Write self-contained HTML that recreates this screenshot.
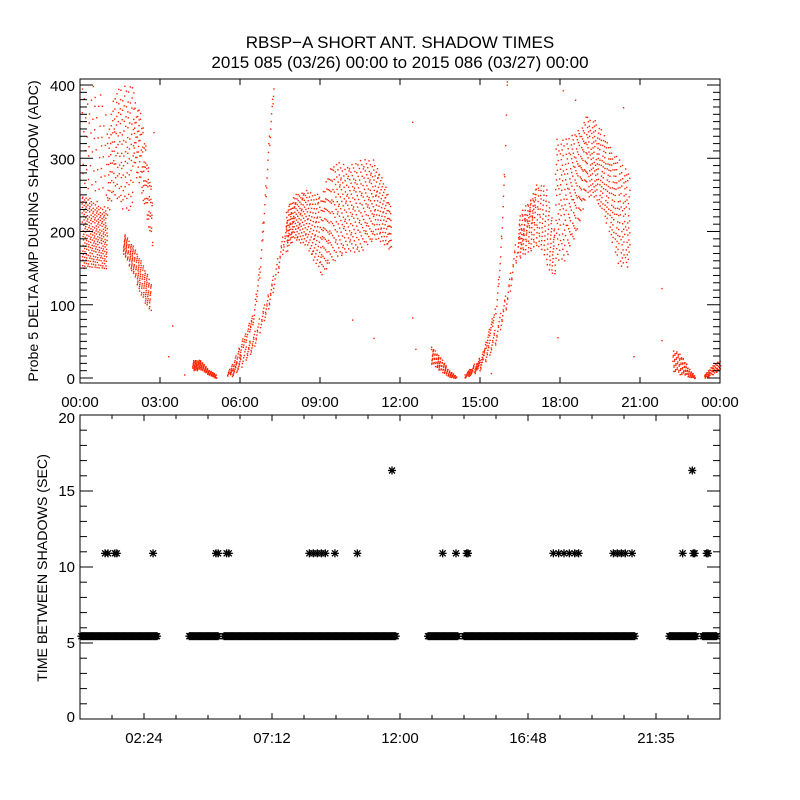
<!DOCTYPE html>
<html><head><meta charset="utf-8"><style>
html,body{margin:0;padding:0;background:#fff;}
svg{display:block;font-family:"Liberation Sans",sans-serif;}
</style></head><body>
<svg id="chart" width="800" height="800" viewBox="0 0 800 800" xmlns="http://www.w3.org/2000/svg">
<rect x="0" y="0" width="800" height="800" fill="#fff"/>
<text x="400" y="48" font-size="17" text-anchor="middle">RBSP−A SHORT ANT. SHADOW TIMES</text>
<text x="400" y="68" font-size="17" text-anchor="middle">2015 085 (03/26) 00:00 to 2015 086 (03/27) 00:00</text>
<g id="topPanel"></g>
<g id="botPanel"></g>
</svg>
<script>
// ---- top panel data: bands of scattered points ----
const bandTimes = [
 [0.05,0.5,1.0],[0.05,0.5,1.0],[1.0,1.3,1.6,2.0],[1.6,2.0,2.3,2.65],[2.0,2.3,2.7],
 [4.2,4.5,4.8,5.1],[5.5,5.9,6.5,6.75,7.0,7.25],[5.6,6.0,6.5,7.0,7.3,7.6,8.0],
 [7.7,8.0,8.5,9.0,9.5,10.0,10.5,11.0,11.5,11.65],
 [13.15,13.5,13.8,14.1],[14.4,15.0,15.6,15.75,15.9,16.0],[14.4,15.0,15.6,16.0,16.3,16.75,17.1],
 [16.4,16.75,17.25,17.5,17.8],[17.8,18.2,18.6,19.0,19.4,19.8,20.2,20.6],
 [22.2,22.5,22.8,23.05],[23.4,23.7,24.0]];
const bandLow = [
 [150,150,150],[240,240,230],[220,250,230,220],[170,140,110,90],[280,250,180],
 [10,12,5,0],[0,22,77,145,270,392],[0,12,40,88,128,172,200],
 [170,190,180,140,160,170,170,190,180,170],
 [20,10,2,0],[0,15,90,157,270,390],[0,10,48,98,155,200,220],
 [160,170,180,150,140],[160,160,200,250,240,200,150,150],
 [10,5,2,0],[0,5,10]];
const bandHigh = [
 [250,240,230],[400,400,380],[330,400,400,400],[200,180,160,130],[380,360,250],
 [25,25,12,5],[6,38,93,165,300,405],[8,30,62,112,152,198,240],
 [230,250,260,250,300,290,300,300,260,230],
 [45,30,12,3],[5,26,104,173,290,405],[6,30,72,122,185,230,265],
 [220,240,270,260,200],[330,330,340,360,350,320,300,280],
 [40,35,15,3],[5,18,25]];
const bandCounts = [250,60,160,180,110,150,110,140,700,120,90,150,200,520,100,60];
const outlierTimes  = [2.75,3.45,3.3,3.9,12.45,12.45,12.57,16.0,18.1,18.56,20.36,21.8,21.8,20.75,17.9,15.4,11.0,10.2];
const outlierValues = [336,72,30,5,350,83,40,405,393,380,370,123,52,30,56,7,55,80];
const topYTicks = [0,100,200,300,400];
const topXTicks = [0,3,6,9,12,15,18,21,24];
const topXLabels = ["00:00","03:00","06:00","09:00","12:00","15:00","18:00","21:00","00:00"];

// ---- bottom panel data ----
const baseSegStart = [0.05,4.1,5.4,13.05,14.4,22.1,23.35];
const baseSegEnd   = [2.9,5.2,11.85,14.2,20.8,23.1,23.9];
const baseValue = 5.45;
const starTimes  = [0.94,1.05,1.31,1.38,2.74,5.1,5.18,5.5,5.58,8.6,8.75,8.9,9.05,9.2,9.56,10.4,11.7,13.6,14.1,14.5,14.55,17.75,17.95,18.15,18.35,18.55,18.7,20.0,20.15,20.3,20.45,20.7,22.6,23.0,23.05,23.5,23.55,22.96];
const starValues = [10.9,10.9,10.9,10.9,10.9,10.9,10.9,10.9,10.9,10.9,10.9,10.9,10.9,10.9,10.9,10.9,16.35,10.9,10.9,10.9,10.9,10.9,10.9,10.9,10.9,10.9,10.9,10.9,10.9,10.9,10.9,10.9,10.9,10.9,10.9,10.9,10.9,16.35];
const botYTicks = [0,5,10,15,20];
const botXTicks = [2.4,7.2,12.0,16.8,21.6];
const botXLabels = ["02:24","07:12","12:00","16:48","21:35"];

const NS="http://www.w3.org/2000/svg";
function mk(tag,attrs,parent){const e=document.createElementNS(NS,tag);for(const k in attrs)e.setAttribute(k,attrs[k]);parent.appendChild(e);return e;}
const PL=80,PR=720;
const xs=h=>PL+h/24*(PR-PL);
const yTop=v=>378-v*0.7325;
const yBot=v=>719-v*(719-415)/20;
const topG=document.getElementById('topPanel'), botG=document.getElementById('botPanel');

function interp(ts,vs,t){if(t<=ts[0])return vs[0];for(let i=1;i<ts.length;i++){if(t<=ts[i]){const f=(t-ts[i-1])/(ts[i]-ts[i-1]);return vs[i-1]+f*(vs[i]-vs[i-1]);}}return vs[vs.length-1];}

// scatter points (uniform 2D low-discrepancy fill within each band)
const pts=mk('g',{fill:'#ff2200'},topG);


const a1=0.7548776662,a2=0.5698402910;
bandTimes.forEach((ts,b)=>{
  const n=bandCounts[b],t0=ts[0],t1=ts[ts.length-1];
  for(let i=0;i<n;i++){
    const ft=(0.5+i*a1)%1, fv=(0.5+b*0.13+i*a2)%1;
    const t=t0+ft*(t1-t0);
    const lo=interp(ts,bandLow[b],t),hi=interp(ts,bandHigh[b],t);
    const v=lo+fv*(hi-lo);
    if(v>408)continue;
    const r=mk('rect',{x:xs(t).toFixed(1),y:yTop(v).toFixed(1),width:1.4,height:1.4},pts);
    
    
  }
});
outlierTimes.forEach((t,i)=>{
  const r=mk('rect',{x:xs(t).toFixed(1),y:yTop(outlierValues[i]).toFixed(1),width:1.4,height:1.4},pts);
  
  
});

function frame(parent,y0,y1){
  const f=mk('rect',{x:PL,y:y0,width:PR-PL,height:y1-y0,fill:'none',stroke:'#000','stroke-width':1},parent);
  
  
}
frame(topG,79,383);
for(let v=0;v<=400;v+=10){
  const y=yTop(v),len=(v%100===0)?13:7;
  mk('line',{x1:PL,y1:y,x2:PL+len,y2:y,stroke:'#000'},topG);
  mk('line',{x1:PR,y1:y,x2:PR-len,y2:y,stroke:'#000'},topG);
}
topYTicks.forEach(v=>{
  const t=mk('text',{x:75,y:yTop(v)+6,'font-size':15,'text-anchor':'end'},topG);
  t.textContent=String(v);
  
  
});
topXTicks.forEach((h,i)=>{
  const x=xs(h);
  mk('line',{x1:x,y1:79,x2:x,y2:85,stroke:'#000'},topG);
  mk('line',{x1:x,y1:383,x2:x,y2:377,stroke:'#000'},topG);
  const t=mk('text',{x:x,y:407,'font-size':15,'text-anchor':'middle'},topG);
  t.textContent=topXLabels[i];
  
  
});
const yt=mk('text',{x:0,y:0,'font-size':14.2,'text-anchor':'middle',transform:'translate(38,231) rotate(-90)'},topG);
yt.textContent='Probe 5 DELTA AMP DURING SHADOW (ADC)';



frame(botG,415,719);
for(let v=0;v<=20;v++){
  const y=yBot(v),len=(v%5===0)?13:7;
  mk('line',{x1:PL,y1:y,x2:PL+len,y2:y,stroke:'#000'},botG);
  mk('line',{x1:PR,y1:y,x2:PR-len,y2:y,stroke:'#000'},botG);
}
botYTicks.forEach(v=>{
  let y=yBot(v)+5; if(v===20)y+=3; if(v===0)y-=2;
  const t=mk('text',{x:75,y:y,'font-size':15,'text-anchor':'end'},botG);
  t.textContent=String(v);
  
  
});
for(let k=1;k<20;k++){
  const h=k*1.2,x=xs(h),len=(k%4===2)?6:4;
  mk('line',{x1:x,y1:415,x2:x,y2:415+len,stroke:'#000'},botG);
  mk('line',{x1:x,y1:719,x2:x,y2:719-len,stroke:'#000'},botG);
}
botXTicks.forEach((h,i)=>{
  const t=mk('text',{x:xs(h),y:743,'font-size':15,'text-anchor':'middle'},botG);
  t.textContent=botXLabels[i];
  
  
});
const yt2=mk('text',{x:0,y:0,'font-size':14.2,'text-anchor':'middle',transform:'translate(47,568) rotate(-90)'},botG);
yt2.textContent='TIME BETWEEN SHADOWS (SEC)';



function star(parent,x,y,name){
  const s=4,d=3;
  const g=mk('g',{stroke:'#000','stroke-width':1.3},parent);
  
  
  mk('line',{x1:x,y1:y-s,x2:x,y2:y+s},g);
  mk('line',{x1:x-s,y1:y,x2:x+s,y2:y},g);
  mk('line',{x1:x-d,y1:y-d,x2:x+d,y2:y+d},g);
  mk('line',{x1:x-d,y1:y+d,x2:x+d,y2:y-d},g);
}
const stars=mk('g',{},botG);


baseSegStart.forEach((s,i)=>{
  const e=baseSegEnd[i];
  for(let t=s;t<=e+1e-6;t+=0.04){star(stars,xs(t),yBot(baseValue),'interval-point');}
});
starTimes.forEach((t,i)=>star(stars,xs(t),yBot(starValues[i]),'interval-point'));
</script>
</body></html>
